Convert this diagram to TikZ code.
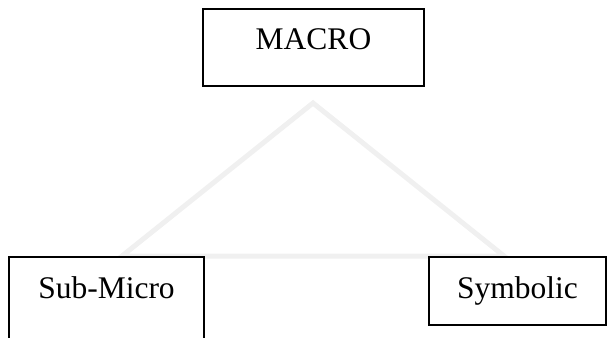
\documentclass[tikz,border=0pt]{standalone}
\usepackage{fontspec}
\setmainfont{Liberation Serif}
\usetikzlibrary{calc}
\definecolor{trigray}{HTML}{F0F0F0}

\begin{document}
\begin{tikzpicture}[x=1pt,y=-1pt,line width=2pt,
  levelbox/.style={draw=black,fill=white,inner sep=0pt,outer sep=0pt,anchor=north,
    text height=41pt,font=\fontsize{31.5}{36}\selectfont},
  tri/.style={draw=trigray,line width=5pt}]
  \clip (0,0) rectangle (607,337);
  % triangulo de fondo
  \coordinate (apex) at (313,103); \coordinate (bl) at (122,256); \coordinate (br) at (504,256);
  \draw[tri] (apex)--(bl)--(br)--cycle;
  % los tres niveles
  \node[levelbox,minimum width=221pt,text depth=36pt] (macro) at (313.5,9) {MACRO};
  \node[levelbox,minimum width=195pt,text depth=100pt] (submicro) at (106.5,257) {Sub-Micro};
  \node[levelbox,minimum width=177pt,text depth=27pt] (symbolic) at (517.5,257) {Symbolic};
\end{tikzpicture}
\end{document}
